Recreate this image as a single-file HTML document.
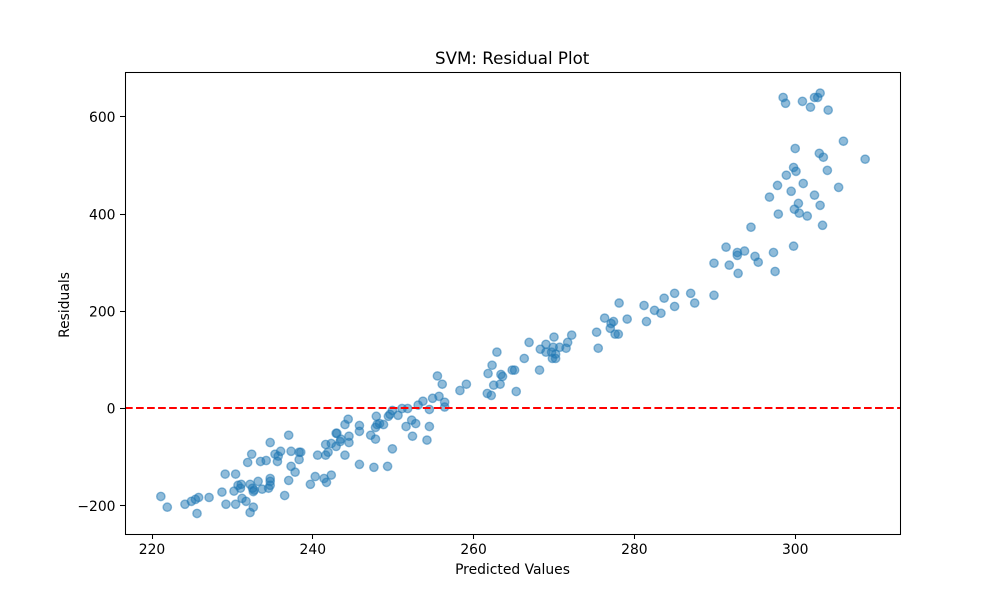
<!DOCTYPE html>
<html lang="en">
<head>
<meta charset="utf-8">
<title>SVM: Residual Plot</title>
<style>
html,body{margin:0;padding:0;background:#fff;}
svg{display:block;}
text{font-family:"DejaVu Sans","Liberation Sans",sans-serif;fill:#000;}
</style>
</head>
<body>
<svg id="chart" width="1000" height="600" viewBox="0 0 1000 600" xmlns="http://www.w3.org/2000/svg">
<rect x="0" y="0" width="1000" height="600" fill="#fff"/>
<text x="512.2" y="64" font-size="16.67" text-anchor="middle">SVM: Residual Plot</text>
<text x="512.5" y="574" font-size="13.89" text-anchor="middle">Predicted Values</text>
<text transform="translate(69,305) rotate(-90)" font-size="13.89" text-anchor="middle">Residuals</text>
<defs><clipPath id="plot-clip"><rect x="125" y="72" width="775" height="462"/></clipPath></defs>
<g id="points" clip-path="url(#plot-clip)"></g>
<g id="zero-line-layer" clip-path="url(#plot-clip)"></g>
<g id="ticks"></g>
<rect x="125.5" y="72.5" width="775" height="462" fill="none" stroke="#000" stroke-width="1.05"/>
</svg>
<script>
const predictedValues = [
221.1,221.9,224.1,224.9,225.4,225.8,225.6,227.1,228.7,229.2,230.4,230.2,231.2,231.7,232.6,232.2,236.5,229.1,230.4,230.7,
231.1,231.0,232.2,232.5,232.7,232.6,233.2,233.7,234.5,234.7,234.7,234.7,237.0,237.8,237.3,231.9,232.4,233.5,234.2,235.3,
235.6,235.7,236.0,234.7,237.0,237.3,238.3,238.3,238.5,240.6,239.7,240.3,241.4,241.7,242.3,241.6,241.9,241.6,242.3,242.9,
243.0,242.9,243.4,243.5,244.5,244.5,244.0,244.0,244.4,245.8,245.8,245.8,247.2,247.8,247.8,247.9,248.0,248.3,248.8,247.6,
249.3,249.9,249.4,249.6,249.9,250.6,251.1,251.8,251.6,252.3,252.8,252.4,254.2,254.5,253.1,253.7,254.5,254.9,255.7,256.4,
256.4,255.5,256.1,258.3,259.1,261.7,262.2,262.5,263.3,261.8,262.3,262.9,263.4,263.6,264.8,265.1,265.3,266.3,266.9,268.2,
268.3,269.0,269.0,269.7,269.9,270.0,269.8,270.2,270.2,270.7,271.5,271.7,272.2,275.3,275.5,276.3,277.4,277.1,277.0,277.6,
278.0,278.1,279.1,281.5,281.2,282.5,283.3,283.7,285.0,285.0,287.0,287.5,289.9,289.9,291.4,291.8,292.8,292.8,292.9,293.7,
295.0,295.4,294.5,297.3,297.5,299.8,297.9,299.9,300.4,300.5,301.5,303.4,303.1,302.4,296.8,299.5,305.4,301.0,297.8,298.9,
299.8,300.1,304.0,308.7,303.0,303.5,300.0,306.0,304.1,301.9,298.8,300.9,298.5,302.4,302.8,303.1
];
const residuals = [
-181,-203,-197,-191,-187,-183,-216,-183,-172,-197,-197,-170,-185,-191,-203,-214,-179,-135,-135,-158,
-156,-164,-156,-164,-168,-171,-150,-166,-164,-158,-150,-144,-148,-131,-119,-111,-94,-109,-107,-94,
-109,-98,-88,-70,-55,-88,-105,-90,-90,-96,-156,-140,-144,-152,-137,-96,-90,-74,-72,-51,
-51,-78,-68,-63,-57,-70,-96,-33,-22,-35,-47,-115,-55,-63,-39,-16,-33,-31,-33,-121,
-119,-83,-16,-12,-4,-14,0,0,-37,-24,-31,-57,-65,-37,7,15,-2,21,25,13,
3,67,50,37,50,31,27,48,50,72,89,116,70,66,79,79,35,103,136,79,
122,132,116,116,126,147,103,103,112,126,124,136,151,157,124,186,179,175,165,153,
153,217,184,179,212,202,196,227,237,210,237,217,233,299,332,295,321,315,278,324,
313,301,373,321,282,334,400,410,422,402,396,377,418,439,435,447,455,463,459,480,
496,488,490,513,525,517,535,550,614,620,628,632,640,640,640,649
];
const xTickValues = [220, 240, 260, 280, 300];
const yTickValues = [-200, 0, 200, 400, 600];
const zeroLineValue = 0;

function xScale(v) { return 152 + (v - 220) * 8.04; }
function yScale(v) { return 408.5 - v * 0.486; }
function formatTick(v) { return v < 0 ? '\u2212' + Math.abs(v) : String(v); }
function snap(p) { return Math.floor(p) + 0.5; }

const NS = 'http://www.w3.org/2000/svg';
const pointsGroup = document.getElementById('points');
predictedValues.forEach(function (x, i) {
  const c = document.createElementNS(NS, 'circle');
  
  
  c.setAttribute('cx', xScale(x));
  c.setAttribute('cy', yScale(residuals[i]));
  c.setAttribute('r', 4.17);
  c.setAttribute('fill', '#1f77b4');
  c.setAttribute('fill-opacity', 0.5);
  c.setAttribute('stroke', '#1f77b4');
  c.setAttribute('stroke-opacity', 0.5);
  c.setAttribute('stroke-width', 1.39);
  pointsGroup.appendChild(c);
});

const zeroLine = document.createElementNS(NS, 'line');


zeroLine.setAttribute('x1', 125);
zeroLine.setAttribute('x2', 900);
zeroLine.setAttribute('y1', yScale(zeroLineValue) - 0.5);
zeroLine.setAttribute('y2', yScale(zeroLineValue) - 0.5);
zeroLine.setAttribute('stroke', '#ff0000');
zeroLine.setAttribute('stroke-width', 2.08);
zeroLine.setAttribute('stroke-dasharray', '7.7 3.33');
document.getElementById('zero-line-layer').appendChild(zeroLine);

const ticksGroup = document.getElementById('ticks');
xTickValues.forEach(function (v) {
  const px = xScale(v);
  const t = document.createElementNS(NS, 'line');
  
  
  t.setAttribute('x1', snap(px));
  t.setAttribute('x2', snap(px));
  t.setAttribute('y1', 534);
  t.setAttribute('y2', 539);
  t.setAttribute('stroke', '#000');
  t.setAttribute('stroke-width', 1.05);
  ticksGroup.appendChild(t);
  const l = document.createElementNS(NS, 'text');
  
  
  l.setAttribute('x', px);
  l.setAttribute('y', 554);
  l.setAttribute('font-size', 13.89);
  l.setAttribute('text-anchor', 'middle');
  l.textContent = formatTick(v);
  ticksGroup.appendChild(l);
});
yTickValues.forEach(function (v) {
  const py = yScale(v);
  const t = document.createElementNS(NS, 'line');
  
  
  t.setAttribute('x1', 120);
  t.setAttribute('x2', 125);
  t.setAttribute('y1', snap(py));
  t.setAttribute('y2', snap(py));
  t.setAttribute('stroke', '#000');
  t.setAttribute('stroke-width', 1.05);
  ticksGroup.appendChild(t);
  const l = document.createElementNS(NS, 'text');
  
  
  l.setAttribute('x', 115.5);
  l.setAttribute('y', py + 5.2);
  l.setAttribute('font-size', 13.89);
  l.setAttribute('text-anchor', 'end');
  l.textContent = formatTick(v);
  ticksGroup.appendChild(l);
});
</script>
</body>
</html>
